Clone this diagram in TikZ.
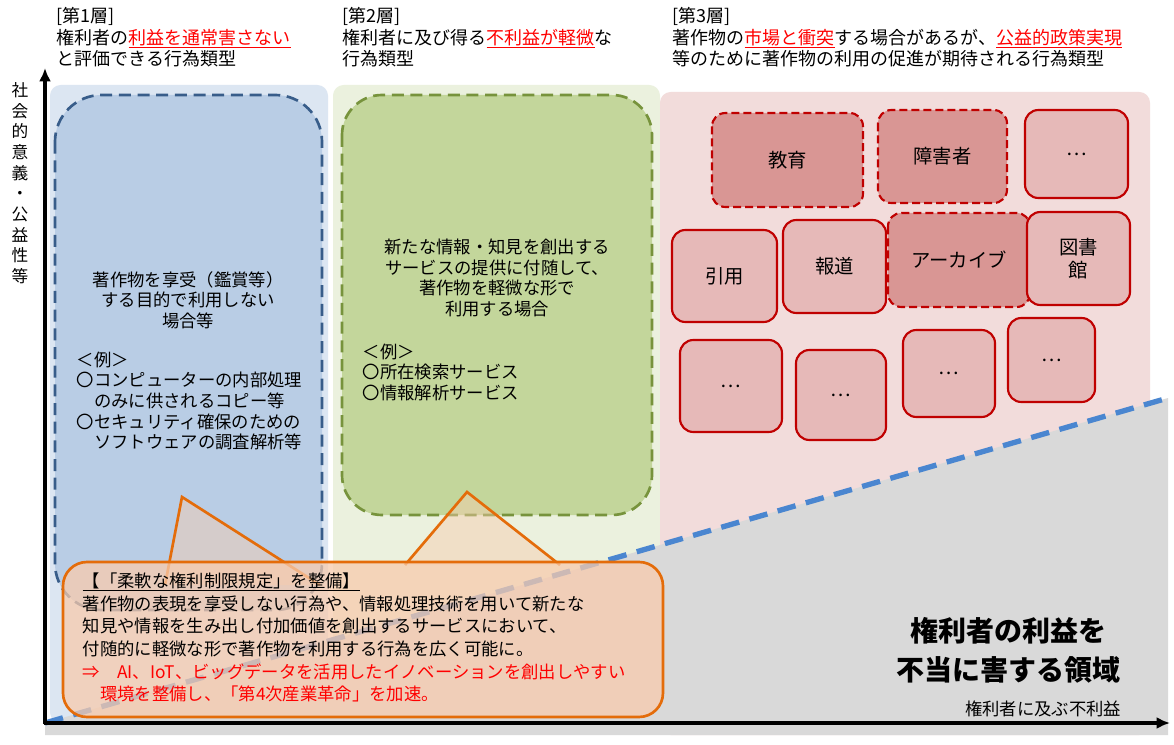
\documentclass[tikz,border=0pt]{standalone}
\usepackage{fontspec}
\setmainfont{Noto Sans CJK JP}
\usetikzlibrary{arrows.meta}
\definecolor{bgA}{HTML}{DCE6F2}\definecolor{bgB}{HTML}{EBF1DE}\definecolor{bgC}{HTML}{F2DCDB}
\definecolor{boxA}{HTML}{B9CDE5}\definecolor{lnA}{HTML}{385D8A}
\definecolor{boxB}{HTML}{C3D69B}\definecolor{lnB}{HTML}{77933C}
\definecolor{rfill}{HTML}{E6B9B8}\definecolor{rdfill}{HTML}{D99694}\definecolor{rline}{HTML}{C00000}
\definecolor{org}{HTML}{E46C0A}\definecolor{orgf}{HTML}{F8CBAD}\definecolor{gr}{HTML}{D9D9D9}\definecolor{bl}{HTML}{4A86D0}
\definecolor{txr}{HTML}{FF0000}
\newcommand{\ru}[1]{\textcolor{txr}{\underline{#1}}}
\begin{document}
\begin{tikzpicture}[x=0.75pt,y=-0.75pt,font=\fontsize{13}{15.5}\selectfont,
 rbox/.style={draw=rline,line width=1.6pt,fill=rfill,rounded corners=10pt},
 rdbox/.style={rbox,dash pattern=on 6pt off 3pt,fill=rdfill},
 lbl/.style={font=\fontsize{14.5}{17.5}\selectfont},
 hdr/.style={anchor=north west,align=left,font=\fontsize{13.5}{16}\selectfont}]
\useasboundingbox (0,0) rectangle (1174,745);
\fill[white] (0,0) rectangle (1174,745);
% backgrounds
\fill[bgA,rounded corners=8pt] (50,85) rectangle (328,723);
\fill[bgB,rounded corners=8pt] (333,85) rectangle (660,723);
\fill[bgC,rounded corners=8pt] (660,92) rectangle (1150,735);
\fill[gr] (45,723) -- (1168,398) -- (1168,735) -- (45,735) -- cycle;
% layer boxes
\draw[lnA,fill=boxA,line width=2pt,dash pattern=on 9pt off 5pt,rounded corners=35pt] (55,95) rectangle (322,610);
\draw[lnB,fill=boxB,line width=2pt,dash pattern=on 9pt off 5pt,rounded corners=30pt] (342,95) rectangle (652,515);
\node[align=center] (t1) at (188,300) {著作物を享受（鑑賞等）\\する目的で利用しない\\場合等};
\node[align=left,anchor=north west] (e1) at (72,347) {＜例＞\\〇コンピューターの内部処理\\　のみに供されるコピー等\\〇セキュリティ確保のための\\　ソフトウェアの調査解析等};
\node[align=center] (t2) at (497,278) {新たな情報・知見を創出する\\サービスの提供に付随して、\\著作物を軽微な形で\\利用する場合};
\node[align=left,anchor=north west] (e2) at (358,339) {＜例＞\\〇所在検索サービス\\〇情報解析サービス};
% red boxes
\draw[rdbox] (712,113) rectangle (863,207) node[midway,lbl] (k1) {教育};
\draw[rdbox] (878,110) rectangle (1007,203) node[midway,lbl] (k2) {障害者};
\draw[rbox] (1025,110) rectangle (1128,198) node[midway,lbl] (k3) {…};
\draw[rbox] (672,230) rectangle (777,322) node[midway,lbl] (k4) {引用};
\draw[rbox] (783,220) rectangle (886,313) node[midway,lbl] (k5) {報道};
\draw[rdbox] (888,213) rectangle (1030,307) node[midway,lbl] (k6) {アーカイブ};
\draw[rbox] (1027,212) rectangle (1130,305) node[midway,lbl,align=center] (k7) {図書\\館};
\draw[rbox] (680,340) rectangle (782,432) node[midway,lbl] (k8) {…};
\draw[rbox] (796,350) rectangle (886,440) node[midway,lbl] (k9) {…};
\draw[rbox] (903,330) rectangle (995,417) node[midway,lbl] (k10) {…};
\draw[rbox] (1008,318) rectangle (1095,402) node[midway,lbl] (k11) {…};
% dashed blue line
\draw[bl,line width=4pt,dash pattern=on 14pt off 8pt] (45,723) -- (1168,398);
% callout pointers
\draw[org,line width=2pt,fill=orgf,fill opacity=0.45] (165,585) -- (182,497) -- (320,585);
\draw[org,line width=2pt,fill=orgf,fill opacity=0.45] (405,565) -- (467,492) -- (560,565);
\draw[org,line width=2pt,fill=orgf,fill opacity=0.75,rounded corners=18pt] (63,562) rectangle (663,717);
\node[align=left,anchor=north west,font=\fontsize{13}{17}\selectfont] (c) at (78,568) {\underline{【「柔軟な権利制限規定」を整備】}\\著作物の表現を享受しない行為や、情報処理技術を用いて新たな\\知見や情報を生み出し付加価値を創出するサービスにおいて、\\付随的に軽微な形で著作物を利用する行為を広く可能に。\\\textcolor{txr}{⇒　AI、IoT、ビッグデータを活用したイノベーションを創出しやすい}\\\textcolor{txr}{　環境を整備し、「第4次産業革命」を加速。}};
% axes
\draw[line width=2.5pt,-{Latex[length=10pt,width=9pt]}] (45,724) -- (45,68);
\draw[line width=2.5pt,-{Latex[length=10pt,width=9pt]}] (44,723) -- (1170,723);
% headers
\node[hdr] (h1) at (52,3) {[第1層]\\権利者の\ru{利益を通常害さない}\\と評価できる行為類型};
\node[hdr] (h2) at (338,3) {[第2層]\\権利者に及び得る\ru{不利益が軽微}な\\行為類型};
\node[hdr] (h3) at (668,3) {[第3層]\\著作物の\ru{市場と衝突}する場合があるが、\ru{公益的政策実現}\\等のために著作物の利用の促進が期待される行為類型};
\node[align=center,font=\fontsize{12.5}{15.5}\selectfont] (v) at (20,183) {社\\会\\的\\意\\義\\・\\公\\益\\性\\等};
\node[align=center,font=\bfseries\fontsize{21}{29}\selectfont] (big) at (1008,650) {権利者の利益を\\不当に害する領域};
\node (xl) at (1043,709) {権利者に及ぶ不利益};
\end{tikzpicture}
\end{document}
